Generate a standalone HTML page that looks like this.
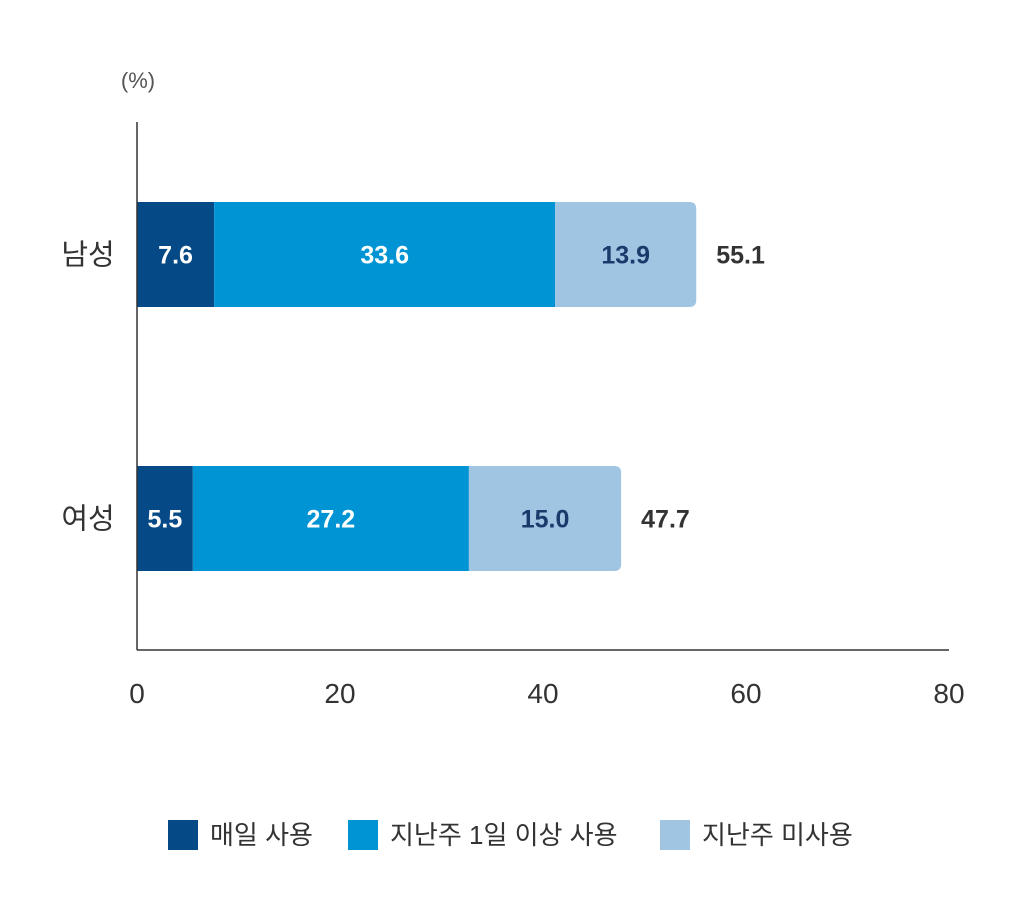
<!DOCTYPE html>
<html><head><meta charset="utf-8"><style>
body{margin:0;background:#fff}
svg text{font-family:"Liberation Sans","Noto Sans CJK KR",sans-serif}
</style></head><body>
<svg width="1028" height="915" xmlns="http://www.w3.org/2000/svg">
<text x="138" y="88" font-size="22" fill="#555" text-anchor="middle">(%)</text>
<g id="bars"></g>
<line x1="137" y1="122" x2="137" y2="650" stroke="#333" stroke-width="1.5"/>
<line x1="137" y1="650" x2="949" y2="650" stroke="#333" stroke-width="1.5"/>
<g id="ticks"></g>
<g>
<rect x="168" y="820" width="30" height="30" fill="#054a87"/>
<text x="210" y="844" font-size="26" fill="#333">매일 사용</text>
<rect x="348" y="820" width="30" height="30" fill="#0094d4"/>
<text x="390" y="844" font-size="26" fill="#333">지난주 1일 이상 사용</text>
<rect x="660" y="820" width="30" height="30" fill="#9fc5e3"/>
<text x="702" y="844" font-size="26" fill="#333">지난주 미사용</text>
</g>
</svg>
<script>
const categories=["남성","여성"];
const daily=[7.6,5.5];
const weekly=[33.6,27.2];
const unused=[13.9,15.0];
const totals=[55.1,47.7];
const ticks=[0,20,40,60,80];
const NS="http://www.w3.org/2000/svg";
const x=v=>137+v*(812/80);
const yTop=i=>202+i*264;
const bh=105;
const colors=["#054a87","#0094d4","#9fc5e3"];
const txtColors=["#fff","#fff","#1a3a6b"];
const series=[daily,weekly,unused];
const g=document.getElementById("bars");
function mk(tag,attrs,parent){const e=document.createElementNS(NS,tag);for(const k in attrs)e.setAttribute(k,attrs[k]);parent.appendChild(e);return e;}
categories.forEach((c,i)=>{
  const lab=mk("text",{x:88,y:yTop(i)+bh/2+10,"font-size":29,fill:"#333","text-anchor":"middle"},g);
  
  
  lab.textContent=c;
  let acc=0;
  series.forEach((s,j)=>{
    const x0=x(acc),x1=x(acc+s[i]);
    let r;
    if(j===2){
      const rr=7,y0=yTop(i);
      r=mk("path",{d:`M${x0},${y0}H${x1-rr}Q${x1},${y0} ${x1},${y0+rr}V${y0+bh-rr}Q${x1},${y0+bh} ${x1-rr},${y0+bh}H${x0}Z`,fill:colors[j]},g);
    } else r=mk("rect",{x:x0,y:yTop(i),width:x1-x0,height:bh,fill:colors[j]},g);
    
    
    const t=mk("text",{x:(x0+x1)/2,y:yTop(i)+bh/2+9,"font-size":25,"font-weight":"bold",fill:txtColors[j],"text-anchor":"middle"},g);
    
    
    t.textContent=s[i].toFixed(1);
    acc+=s[i];
  });
  const tt=mk("text",{x:x(acc)+20,y:yTop(i)+bh/2+9,"font-size":25,"font-weight":"bold",fill:"#333"},g);
  
  
  tt.textContent=totals[i].toFixed(1);
});
const tg=document.getElementById("ticks");
ticks.forEach(v=>{
  const t=mk("text",{x:x(v),y:703,"font-size":28,fill:"#333","text-anchor":"middle"},tg);
  
  
  t.textContent=v;
});
</script>
</body></html>
